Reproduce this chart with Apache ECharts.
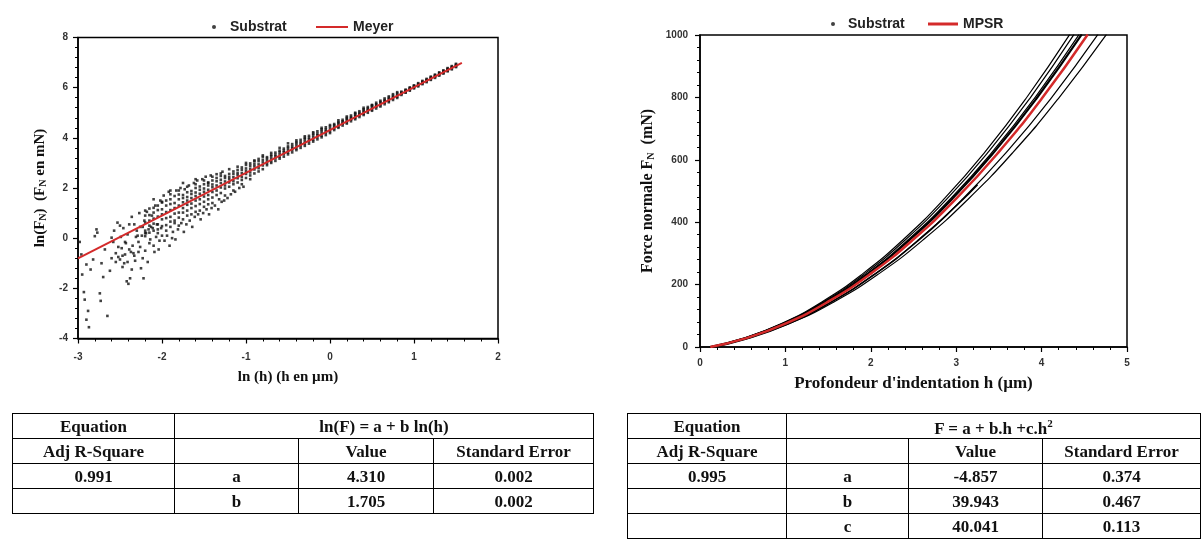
<!DOCTYPE html>
<html><head><meta charset="utf-8">
<script src="https://cdn.jsdelivr.net/npm/echarts@6/dist/echarts.min.js"></script>
<style>
html,body{margin:0;padding:0;background:#fff;}
#chart{position:absolute;left:0;top:0;width:1202px;height:543px;}
table.t{position:absolute;border-collapse:collapse;font-family:"Liberation Serif","DejaVu Serif",serif;font-weight:bold;font-size:17px;color:#111;table-layout:fixed;}
table.t td{border:1.5px solid #000;text-align:center;height:24px;padding:0;line-height:19px;}
table.t sup{font-size:11px;}
</style></head>
<body>
<div id="chart"></div>
<table class="t" id="t1" style="left:12px;top:413px;width:581px"></table>
<table class="t" id="t2" style="left:627px;top:413px;width:573px"></table>
<script>
// ---------- Left chart: ln(F) vs ln(h) ----------
const meyerX = [-3.0, 1.57];
const meyerY = [-0.805, 6.987];
// dense band of Substrat points (x columns, five y readings each)
const bandX = [-2.20,-2.15,-2.10,-2.05,-2.00,-1.95,-1.90,-1.85,-1.80,-1.75,-1.70,-1.65,-1.60,-1.55,-1.50,-1.45,-1.40,-1.35,-1.30,-1.25,-1.20,-1.15,-1.10,-1.05,-1.00,-0.95,-0.90,-0.85,-0.80,-0.75,-0.70,-0.65,-0.60,-0.55,-0.50,-0.45,-0.40,-0.35,-0.30,-0.25,-0.20,-0.15,-0.10,-0.05,0.00,0.05,0.10,0.15,0.20,0.25,0.30,0.35,0.40,0.45,0.50,0.55,0.60,0.65,0.70,0.75,0.80,0.85,0.90,0.95,1.00,1.05,1.10,1.15,1.20,1.25,1.30,1.35,1.40,1.45,1.50];
const bandLow = [0.08,0.22,0.30,0.35,0.48,0.52,0.66,0.70,0.82,1.02,1.10,1.20,1.28,1.36,1.45,1.55,1.62,1.72,1.80,1.98,2.05,2.15,2.22,2.32,2.40,2.50,2.58,2.66,2.75,2.91,3.00,3.08,3.17,3.25,3.34,3.42,3.51,3.60,3.68,3.77,3.85,3.94,4.02,4.11,4.19,4.31,4.40,4.49,4.57,4.66,4.74,4.83,4.91,5.00,5.08,5.17,5.25,5.34,5.42,5.51,5.59,5.71,5.80,5.88,5.97,6.05,6.14,6.22,6.31,6.39,6.48,6.56,6.65,6.73,6.82];
const bandQ1 = [0.30,0.50,0.58,0.55,0.75,0.80,0.85,0.98,1.02,1.20,1.33,1.38,1.50,1.55,1.66,1.72,1.84,1.90,2.02,2.10,2.22,2.27,2.39,2.44,2.56,2.62,2.74,2.79,2.90,2.99,3.07,3.18,3.24,3.35,3.41,3.52,3.58,3.69,3.76,3.86,3.92,4.03,4.09,4.20,4.26,4.38,4.45,4.56,4.62,4.73,4.79,4.90,4.96,5.07,5.13,5.24,5.30,5.41,5.47,5.58,5.64,5.75,5.82,5.92,6.00,6.09,6.17,6.26,6.34,6.43,6.51,6.60,6.68,6.77,6.85];
const bandMid = [0.62,0.70,0.78,0.86,0.95,1.04,1.12,1.20,1.30,1.43,1.50,1.60,1.68,1.77,1.85,1.93,2.03,2.10,2.20,2.26,2.35,2.43,2.52,2.60,2.68,2.77,2.86,2.94,3.02,3.08,3.17,3.25,3.34,3.42,3.51,3.59,3.68,3.76,3.85,3.93,4.02,4.10,4.19,4.27,4.36,4.44,4.52,4.61,4.69,4.78,4.86,4.95,5.03,5.12,5.20,5.29,5.37,5.46,5.54,5.63,5.71,5.78,5.86,5.95,6.04,6.12,6.21,6.29,6.38,6.46,6.55,6.63,6.72,6.80,6.89];
const bandQ3 = [0.90,0.92,1.02,1.12,1.15,1.30,1.36,1.40,1.55,1.60,1.64,1.76,1.82,1.93,1.98,2.10,2.14,2.27,2.33,2.40,2.44,2.56,2.60,2.73,2.78,2.89,2.95,3.07,3.12,3.17,3.26,3.32,3.43,3.49,3.60,3.66,3.77,3.83,3.94,4.00,4.11,4.17,4.28,4.34,4.45,4.50,4.59,4.66,4.75,4.83,4.92,5.00,5.09,5.17,5.26,5.34,5.43,5.51,5.60,5.68,5.77,5.81,5.90,5.98,6.07,6.15,6.24,6.32,6.41,6.49,6.58,6.66,6.75,6.83,6.92];
const bandHigh = [1.10,1.18,1.21,1.30,1.42,1.50,1.55,1.68,1.74,1.72,1.83,1.88,2.00,2.06,2.15,2.22,2.30,2.40,2.48,2.48,2.56,2.66,2.72,2.82,2.92,2.98,3.06,3.16,3.24,3.23,3.32,3.41,3.49,3.57,3.66,3.75,3.83,3.92,4.00,4.08,4.17,4.26,4.34,4.42,4.51,4.55,4.63,4.72,4.80,4.89,4.97,5.06,5.14,5.23,5.31,5.40,5.48,5.57,5.65,5.74,5.82,5.84,5.92,6.01,6.09,6.18,6.27,6.35,6.44,6.52,6.61,6.69,6.78,6.86,6.95];
// scattered Substrat points away from the band
const cloudX = [-2.98,-2.96,-2.95,-2.93,-2.92,-2.90,-2.88,-2.90,-2.87,-2.85,-2.82,-2.78,-2.77,-2.80,-2.74,-2.73,-2.72,-2.70,-2.68,-2.65,-2.62,-2.60,-2.58,-2.55,-2.53,-2.52,-2.50,-2.48,-2.46,-2.45,-2.44,-2.42,-2.41,-2.40,-2.38,-2.37,-2.36,-2.35,-2.33,-2.32,-2.30,-2.28,-2.27,-2.25,-2.24,-2.22,-2.21,-2.20,-2.18,-2.16,-2.14,-2.12,-2.10,-2.08,-2.06,-2.05,-2.03,-2.02,-2.00,-1.98,-1.95,-1.92,-1.90,-1.88,-1.85,-1.83,-1.80,-1.78,-1.75,-1.73,-1.70,-1.68,-1.65,-1.62,-1.60,-1.58,-1.55,-1.52,-1.50,-1.48,-1.45,-1.42,-1.40,-1.35,-1.32,-1.28,-1.25,-1.20,-1.15,-1.10,-1.05,-1.00,-0.95,-0.90,-0.80,-0.70,-0.60,-0.50,-0.40,-0.30,-0.20,-0.10,0.10,0.20,0.30,0.40,0.50,-2.60,-2.57,-2.50,-2.47,-2.43,-2.39,-2.34,-2.29,-2.26,-2.23,-2.19,-2.15,-2.11,
  -2.55,-2.52,-2.49,-2.47,-2.44,-2.41,-2.39,-2.36,-2.33,-2.31,-2.28,-2.26,-2.23,-2.20,-2.17,-2.13,-2.09,-2.07,-2.04,-2.01,-1.97,-1.94,-1.91,-1.87,-1.84,-1.81,-1.77,-1.74,-1.71,-1.67,-1.64,-1.61,-1.57,-1.54,-1.51,-1.47,-1.44,-1.41,-1.37,-1.33,-1.29,-1.26,-1.22,-1.18,-1.13,-1.08,-1.03,-2.10,-2.00,-1.90,-1.80,-1.70,-1.60,-1.50,-1.40,-1.30,-1.90,-1.75,-1.60,-1.45];
const cloudY = [-0.15,-0.65,-1.45,-2.15,-2.45,-1.05,-2.90,-3.25,-3.55,-1.25,-0.85,0.35,0.22,0.08,-2.20,-2.50,-1.00,-1.55,-0.45,-3.10,-1.30,0.02,-0.15,-0.60,0.62,-0.75,-0.85,-0.40,0.40,-1.00,-0.65,-1.72,0.15,-1.82,-1.60,-0.55,0.85,-0.30,0.55,-0.90,0.30,-0.15,1.00,-1.20,0.10,-1.60,0.70,-0.50,1.05,0.35,-0.05,0.90,-0.30,1.30,0.55,0.20,-0.10,1.50,0.10,1.70,0.30,1.85,0.45,0.00,0.60,1.90,0.50,2.00,0.75,1.95,0.90,2.10,0.95,2.20,1.05,2.30,1.10,2.35,1.25,2.45,1.35,2.50,1.40,2.55,1.55,2.65,1.70,2.75,1.90,2.85,2.15,3.00,2.35,3.10,3.30,3.40,3.60,3.78,3.90,4.06,4.22,4.40,4.70,4.85,5.00,5.20,5.30,-0.80,0.30,0.50,-0.70,-0.20,-0.45,-0.60,0.10,-0.35,0.45,0.20,-0.20,0.40,
  -0.95,-0.35,0.05,-1.15,-0.15,-0.95,0.55,-1.25,-0.70,0.05,-0.55,0.45,-0.80,0.20,-0.95,0.45,-0.55,0.05,-0.45,0.40,-0.10,0.10,-0.30,0.25,-0.05,0.35,0.60,0.25,0.55,0.70,0.45,0.85,0.95,0.75,1.00,1.15,0.95,1.20,1.30,1.15,1.45,1.50,1.60,1.75,1.85,2.00,2.05,1.55,1.45,1.75,1.90,2.05,2.15,2.30,2.45,2.58,1.90,2.20,2.35,2.20];
const leftXTicks = {min:-3, max:2, interval:1, minor:0.2};
const leftYTicks = {min:-4, max:8, interval:2, minor:0.4};

// ---------- Right chart: F vs h ----------
const curveF = [0, 25.1, 75.1, 145.2, 235.2, 345.3, 475.3, 625.4, 795.6, 1001.8];
const mpsrH = [0.12, 0.50, 1.00, 1.50, 2.00, 2.50, 3.00, 3.50, 4.00, 4.54];
const curveA = [0.114,0.477,0.954,1.431,1.907,2.384,2.861,3.338,3.815,4.33];
const curveB = [0.116,0.482,0.965,1.447,1.930,2.412,2.894,3.377,3.859,4.38];
const curveC = [0.117,0.489,0.978,1.467,1.956,2.445,2.934,3.423,3.912,4.44];
const curveD = [0.118,0.492,0.985,1.477,1.969,2.462,2.954,3.446,3.938,4.47];
const curveE = [0.123,0.513,1.026,1.540,2.053,2.566,3.079,3.592,4.106,4.66];
const curveG = [0.126,0.524,1.048,1.573,2.097,2.621,3.145,3.670,4.194,4.76];
const shortH = [0.15, 0.52, 1.03, 1.53, 2.04, 2.55, 3.06, 3.25];
const shortF = [0, 24, 74, 143, 232, 340, 468, 520];
const rightXTicks = {min:0, max:5, interval:1, minor:0.2};
const rightYTicks = {min:0, max:1000, interval:200, minor:40};

// ---------- Tables ----------
const t1Equation = 'ln(F) = a + b ln(h)';
const t1AdjR2 = '0.991';
const t1Params = ['a', 'b'];
const t1Values = ['4.310', '1.705'];
const t1Errors = ['0.002', '0.002'];
const t2Equation = 'F = a + b.h +c.h<sup>2</sup>';
const t2AdjR2 = '0.995';
const t2Params = ['a', 'b', 'c'];
const t2Values = ['-4.857', '39.943', '40.041'];
const t2Errors = ['0.374', '0.467', '0.113'];

function buildTable(id, eq, r2, params, vals, errs, widths){
  let h = '<colgroup>' + widths.map(w=>'<col style="width:'+w+'px">').join('') + '</colgroup>';
  h += '<tr><td>Equation</td><td colspan="3">'+eq+'</td></tr>';
  h += '<tr><td>Adj R-Square</td><td></td><td>Value</td><td>Standard Error</td></tr>';
  params.forEach((p,i)=>{
    h += '<tr><td>'+(i===0?r2:'')+'</td><td>'+p+'</td><td>'+vals[i]+'</td><td>'+errs[i]+'</td></tr>';
  });
  document.getElementById(id).innerHTML = h;
}
buildTable('t1', t1Equation, t1AdjR2, t1Params, t1Values, t1Errors, [162,124,135,160]);
buildTable('t2', t2Equation, t2AdjR2, t2Params, t2Values, t2Errors, [159,122,134,158]);

// ---------- build series data ----------
const substratPts = [];
bandX.forEach((x,i)=>{ substratPts.push([x,bandLow[i]],[x,bandQ1[i]],[x,bandMid[i]],[x,bandQ3[i]],[x,bandHigh[i]]); });
cloudX.forEach((x,i)=>substratPts.push([x,cloudY[i]]));
const meyerPts = meyerX.map((x,i)=>[x,meyerY[i]]);
const zipF = hs => hs.map((h,i)=>[h,curveF[i]]);
const mpsrPts = zipF(mpsrH);
const shortPts = shortH.map((h,i)=>[h,shortF[i]]);

const tickLbl = {color:'#333', fontFamily:'Liberation Sans, Arial, sans-serif', fontWeight:'bold', fontSize:10, formatter:(v)=>String(v)};
const serifName = {fontFamily:'Liberation Serif, DejaVu Serif, serif', fontWeight:'bold', color:'#111'};
function majorAxis(pos){
  return {
    type:'value', position:pos,
    axisLine:{show:true, onZero:false, lineStyle:{color:'#000', width:1.5}},
    axisTick:{show:true, inside:false, length:5, lineStyle:{color:'#000', width:1.2}},
    splitLine:{show:false}
  };
}
function minorAxis(grid, t, pos){
  return {type:'value', gridIndex:grid, position:pos, min:t.min, max:t.max, interval:t.minor,
    axisLine:{show:false, onZero:false}, axisLabel:{show:false}, splitLine:{show:false},
    axisTick:{show:true, inside:false, length:3, lineStyle:{color:'#000', width:1}}};
}
const nameRich = (fs)=>({
  b:{fontFamily:'Liberation Serif, DejaVu Serif, serif', fontWeight:'bold', fontSize:fs, color:'#111'},
  s:{fontFamily:'Liberation Serif, DejaVu Serif, serif', fontWeight:'bold', fontSize:Math.round(fs*0.65), color:'#111', padding:[6,0,0,0]}
});
const legendText = {fontFamily:'Liberation Sans, Arial', fontWeight:'bold', fontSize:14, color:'#222'};

const chart = echarts.init(document.getElementById('chart'), null, {renderer:'canvas'});
const blackLine = (data, w)=>({type:'line', name:'Substrat', xAxisIndex:1, yAxisIndex:1, data:data, smooth:true, showSymbol:false, color:'#000', lineStyle:{color:'#000', width:w}, z:2});
chart.setOption({
  animation:false,
  backgroundColor:'#fff',
  grid:[
    {left:78, top:37.5, width:420, height:301, show:true, borderColor:'#000', borderWidth:1.5, backgroundColor:'transparent'},
    {left:700, top:35, width:427, height:312, show:true, borderColor:'#000', borderWidth:1.5, backgroundColor:'transparent'}
  ],
  legend:[
    {left:207, top:15, data:[{name:'Substrat', icon:'circle'}], itemWidth:4, itemHeight:4, textStyle:Object.assign({padding:[0,0,0,9]}, legendText), selectedMode:false},
    {left:311, top:15, data:[{name:'Meyer', icon:'rect'}], itemWidth:32, itemHeight:2, textStyle:legendText, selectedMode:false},
    {left:826, top:12, data:[{name:'Substrat', icon:'circle'}], itemWidth:4, itemHeight:4, textStyle:Object.assign({padding:[0,0,0,8]}, legendText), selectedMode:false},
    {left:923, top:12, data:[{name:'MPSR', icon:'rect'}], itemWidth:30, itemHeight:3, textStyle:legendText, selectedMode:false}
  ],
  xAxis:[
    Object.assign(majorAxis('bottom'), {gridIndex:0, min:leftXTicks.min, max:leftXTicks.max, interval:leftXTicks.interval,
      axisLabel:Object.assign({margin:14}, tickLbl),
      name:'ln (h) (h en \u00b5m)', nameLocation:'middle', nameGap:31, nameTextStyle:Object.assign({fontSize:15}, serifName)}),
    Object.assign(majorAxis('bottom'), {gridIndex:1, min:rightXTicks.min, max:rightXTicks.max, interval:rightXTicks.interval,
      axisLabel:Object.assign({margin:11}, tickLbl),
      name:"Profondeur d'indentation h (\u00b5m)", nameLocation:'middle', nameGap:28, nameTextStyle:Object.assign({fontSize:17}, serifName)}),
    minorAxis(0, leftXTicks, 'bottom'),
    minorAxis(1, rightXTicks, 'bottom')
  ],
  yAxis:[
    Object.assign(majorAxis('left'), {gridIndex:0, min:leftYTicks.min, max:leftYTicks.max, interval:leftYTicks.interval,
      axisLabel:Object.assign({margin:10}, tickLbl),
      name:'{b|ln(F}{s|N}{b|)  (F}{s|N}{b| en mN)}', nameLocation:'middle', nameGap:30, nameRotate:90,
      nameTextStyle:{rich:nameRich(15)}}),
    Object.assign(majorAxis('left'), {gridIndex:1, min:rightYTicks.min, max:rightYTicks.max, interval:rightYTicks.interval,
      axisLabel:Object.assign({margin:12}, tickLbl),
      name:'{b|Force normale F}{s|N}{b|  (mN)}', nameLocation:'middle', nameGap:44, nameRotate:90,
      nameTextStyle:{rich:nameRich(16)}}),
    minorAxis(0, leftYTicks, 'left'),
    minorAxis(1, rightYTicks, 'left')
  ],
  series:[
    {type:'scatter', name:'Substrat', xAxisIndex:0, yAxisIndex:0, data:substratPts, symbol:'rect', symbolSize:2.6, color:'#000', itemStyle:{color:'#111'}, z:2},
    {type:'line', name:'Meyer', xAxisIndex:0, yAxisIndex:0, data:meyerPts, showSymbol:false, color:'#d42a2a', lineStyle:{color:'#d42a2a', width:2}, z:3},
    blackLine(zipF(curveA),1.2),
    blackLine(zipF(curveB),1.2),
    blackLine(zipF(curveC),1.2),
    blackLine(zipF(curveD),2.2),
    blackLine(zipF(curveE),1.2),
    blackLine(zipF(curveG),1.2),
    blackLine(shortPts,1.6),
    {type:'line', name:'MPSR', xAxisIndex:1, yAxisIndex:1, data:mpsrPts, smooth:true, showSymbol:false, color:'#d42a2a', lineStyle:{color:'#d42a2a', width:2.5}, z:3}
  ]
});
</script>
</body></html>
